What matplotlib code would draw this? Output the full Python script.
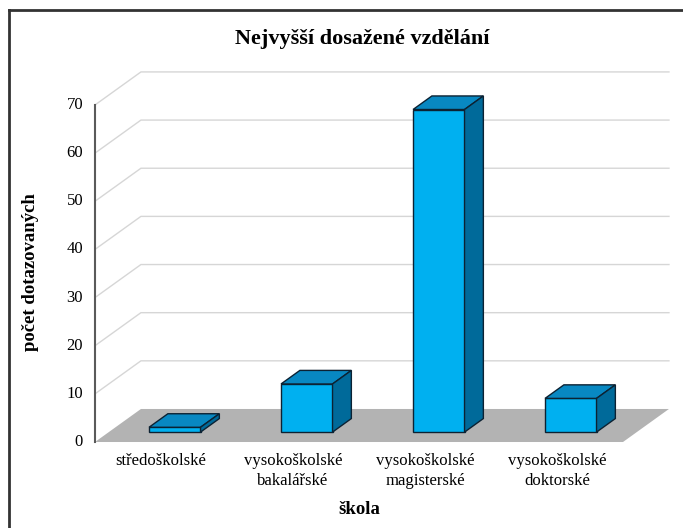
import matplotlib.pyplot as plt
from matplotlib.patches import Polygon
from matplotlib.lines import Line2D

plt.rcParams['font.family'] = ['Liberation Serif', 'DejaVu Serif']

# data
categories = ["středoškolské", "vysokoškolské\nbakalářské",
              "vysokoškolské\nmagisterské", "vysokoškolské\ndoktorské"]
counts = [1, 10, 67, 7]
yticks = [0, 10, 20, 30, 40, 50, 60, 70]
title = "Nejvyšší dosažené vzdělání"
xlabel = "škola"
ylabel = "počet dotazovaných"

# oblique 3d look (depth 0 = front, 1 = back wall)
DX = 0.348   # slot units per unit of depth
DY = 6.86    # value units per unit of depth
BAR_W = 0.39
Z0, Z1 = 0.30, 0.71
YMAX = 70

FRONT = "#00b0f0"
TOP = "#0888c2"
SIDE = "#006a9a"
EDGE = "#0c2233"


def proj(x, y, z):
    return (x + z * DX, y + z * DY)


def face(ax, pts, color, edge="none", lw=0, z=1):
    ax.add_patch(Polygon([proj(*p) for p in pts], closed=True,
                         facecolor=color, edgecolor=edge, linewidth=lw, zorder=z))


fig = plt.figure(figsize=(6.83, 5.28), dpi=100)
ax = fig.add_axes([0, 0, 1, 1])
ax.set_xlim(-0.7197, 4.4545)
ax.set_ylim(-17.86, 91.8)
ax.axis("off")

n = len(categories)

# gridlines on side and back walls
for v in yticks[1:]:
    xs, ys = zip(proj(0, v, 0), proj(0, v, 1), proj(n, v, 1))
    ax.plot(xs, ys, color="#d6d6d6", lw=1, zorder=1)

# floor
face(ax, [(0, 0, 0), (n, 0, 0), (n, 0, 1), (0, 0, 1)], "#b3b3b3", z=2)

# value axis
xs, ys = zip(proj(0, 0, 0), proj(0, YMAX, 0))
ax.plot(xs, ys, color="#5a5a5a", lw=1.5, zorder=3)

# bars
for i, h in enumerate(counts):
    x0 = i + 0.5 - BAR_W / 2
    x1 = i + 0.5 + BAR_W / 2
    face(ax, [(x0, 0, Z0), (x1, 0, Z0), (x1, h, Z0), (x0, h, Z0)], FRONT, EDGE, 1, 5)
    face(ax, [(x0, h, Z0), (x1, h, Z0), (x1, h, Z1), (x0, h, Z1)], TOP, EDGE, 1, 5)
    face(ax, [(x1, 0, Z0), (x1, 0, Z1), (x1, h, Z1), (x1, h, Z0)], SIDE, EDGE, 1, 5)

# tick labels
for v in yticks:
    ax.text(-0.09, v, str(v), ha="right", va="center", fontsize=12)

for i, c in enumerate(categories):
    ax.text(i + 0.5, -2.2, c, ha="center", va="top", fontsize=12, linespacing=1.35)

ax.text(n / 2, -14.0, xlabel, ha="center", va="center", fontsize=13.5, fontweight="bold")
fig.text(31 / 683, 1 - 272 / 528, ylabel, rotation=90, ha="center", va="center",
         fontsize=13.5, fontweight="bold")
fig.text(362 / 683, 1 - 39 / 528, title, ha="center", va="center",
         fontsize=16, fontweight="bold")

# chart frame (left and top edges visible)
fig.add_artist(Line2D([9 / 683, 9 / 683], [0, 1 - 10 / 528], color="#333333", lw=2))
fig.add_artist(Line2D([9 / 683, 1], [1 - 10 / 528, 1 - 10 / 528], color="#333333", lw=2))

fig.savefig("out.png", dpi=100)
